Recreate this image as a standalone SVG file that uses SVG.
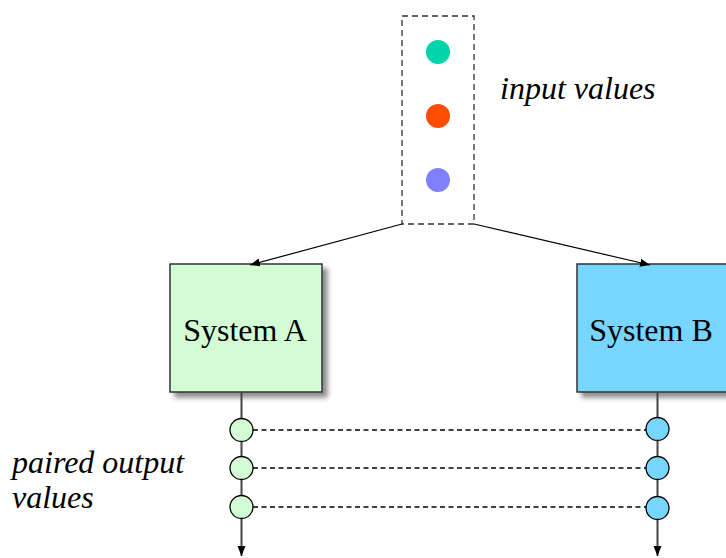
<svg xmlns="http://www.w3.org/2000/svg" width="726" height="558" viewBox="0 0 726 558">
  <defs>
    <filter id="shadow" x="-20%" y="-20%" width="140%" height="140%">
      <feGaussianBlur in="SourceAlpha" stdDeviation="2.5"/>
      <feOffset dx="5" dy="5" result="b"/>
      <feComponentTransfer><feFuncA type="linear" slope="0.45"/></feComponentTransfer>
      <feMerge><feMergeNode/><feMergeNode in="SourceGraphic"/></feMerge>
    </filter>
    <marker id="arrow" viewBox="0 0 10 10" refX="10" refY="5" markerWidth="10" markerHeight="10" markerUnits="userSpaceOnUse" orient="auto">
      <path d="M0,1 L10,5 L0,9 Z" fill="#000"/>
    </marker>
  </defs>
  <style>
    .label { font-family: "Liberation Serif", "Times New Roman", serif; font-size: 32px; fill: #000; }
    .note { font-family: "Liberation Serif", "Times New Roman", serif; font-size: 32px; font-style: italic; fill: #000; }
    .system { stroke: #333; stroke-width: 1.5; }
    .flow { stroke: #000; stroke-width: 1.2; fill: none; }
    .axis { stroke: #444; stroke-width: 2; fill: none; }
    .pair { stroke: #000; stroke-width: 1.3; stroke-dasharray: 5 3.5; fill: none; }
    .out { stroke: #000; stroke-width: 1.3; }
  </style>

  <rect width="726" height="558" fill="#fff"/>

  <!-- input values -->
  <g id="inputs">
    <rect x="402" y="16" width="72" height="208" fill="none" stroke="#333" stroke-width="1.3" stroke-dasharray="6 4"/>
    <circle cx="438" cy="52" r="12" fill="#00d4aa"/>
    <circle cx="438" cy="116" r="12" fill="#ff4d00"/>
    <circle cx="438" cy="180" r="12" fill="#8080ff"/>
  </g>
  <text class="note" x="500" y="99">input values</text>

  <g id="system-a">
    <rect class="system" x="170" y="264" width="152" height="128" fill="#d4fcd4" filter="url(#shadow)"/>
    <text class="label" x="245" y="341" text-anchor="middle">System A</text>
  </g>

  <g id="system-b">
    <rect class="system" x="577" y="264" width="152" height="128" fill="#76d6ff" filter="url(#shadow)"/>
    <text class="label" x="651" y="341" text-anchor="middle">System B</text>
  </g>

  <g id="connectors">
    <line class="flow" x1="402" y1="224" x2="250" y2="265" marker-end="url(#arrow)"/>
    <line class="flow" x1="474" y1="224" x2="650" y2="265" marker-end="url(#arrow)"/>
    <line class="axis" x1="241.5" y1="392" x2="241.5" y2="556" marker-end="url(#arrow)"/>
    <line class="axis" x1="657.5" y1="392" x2="657.5" y2="556" marker-end="url(#arrow)"/>
    <line class="pair" x1="253" y1="430" x2="646" y2="430"/>
    <line class="pair" x1="253" y1="468" x2="646" y2="468"/>
    <line class="pair" x1="253" y1="507" x2="646" y2="507"/>
  </g>

  <g id="outputs-a">
    <circle class="out" cx="241.5" cy="430" r="11.5" fill="#d4fcd4"/>
    <circle class="out" cx="241.5" cy="468" r="11.5" fill="#d4fcd4"/>
    <circle class="out" cx="241.5" cy="507" r="11.5" fill="#d4fcd4"/>
  </g>
  <g id="outputs-b">
    <circle class="out" cx="657.5" cy="429" r="11.5" fill="#76d6ff"/>
    <circle class="out" cx="657.5" cy="468" r="11.5" fill="#76d6ff"/>
    <circle class="out" cx="657.5" cy="508" r="11.5" fill="#76d6ff"/>
  </g>

  <text class="note" x="12" y="473">paired output</text>
  <text class="note" x="12" y="508">values</text>
</svg>
